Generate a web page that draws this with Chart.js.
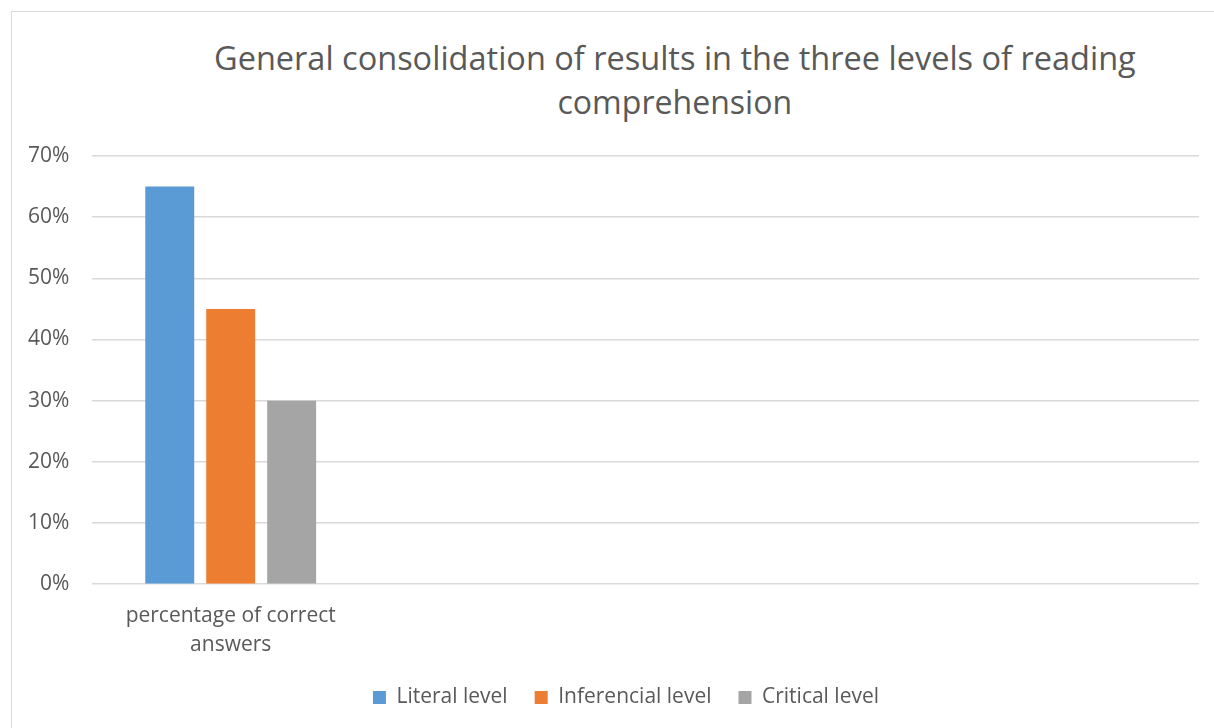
<!DOCTYPE html>
<html>
<head>
<meta charset="utf-8">
<script src="https://cdn.jsdelivr.net/npm/chart.js@4"></script>
<style>
  body { margin: 0; background: #fff; }
  #wrap { position: relative; width: 1214px; height: 728px; overflow: hidden; }
  #frame { position: absolute; left: 11px; top: 11px; width: 1300px; height: 800px;
           border-left: 1px solid #d9d9d9; border-top: 1px solid #d9d9d9; }
  #title { position: absolute; left: 175px; width: 1000px; top: 36px; text-align: center;
           font-family: "Open Sans", sans-serif; font-size: 33px; line-height: 44px; color: #595959;
           white-space: nowrap; }
  #title span { display: inline-block; transform-origin: center; }
  canvas { position: absolute; left: 0; top: 0; }
</style>
</head>
<body>
<div id="wrap">
  <div id="frame"></div>
  <div id="title"><span data-w="922">General consolidation of results in the three levels of reading</span><br><span data-w="235">comprehension</span></div>
  <canvas id="chart" width="1214" height="728"></canvas>
</div>
<script>
// categories: only the first one holds data, the rest are empty slots
const categories = [["percentage of correct", "answers"], "", "", ""];
const literal = [65, null, null, null];
const inferencial = [45, null, null, null];
const critical = [30, null, null, null];
const yTicks = [0, 10, 20, 30, 40, 50, 60, 70];

const textColor = "#595959";
const gridColor = "#d9d9d9";
const fontFamily = "'Open Sans', sans-serif";

// squeeze the title lines to the narrow look of the original font
document.querySelectorAll('#title span').forEach(s => {
  s.style.transform = 'scaleX(' + (s.dataset.w / s.offsetWidth) + ')';
});

// the original legend sits a bit right of the canvas centre
const legendNudge = {
  id: 'legendNudge',
  afterLayout(chart) {
    chart.legend.left += 24;
    chart.legend.right += 24;
  }
};

const ctx = document.getElementById('chart');

new Chart(ctx, {
  type: 'bar',
  data: {
    labels: categories,
    datasets: [
      { label: 'Literal level', data: literal, backgroundColor: "#5b9bd5" },
      { label: 'Inferencial level', data: inferencial, backgroundColor: "#ed7d31" },
      { label: 'Critical level', data: critical, backgroundColor: "#a5a5a5" }
    ]
  },
  plugins: [legendNudge],
  options: {
    responsive: false,
    animation: false,
    layout: {
      padding: { top: 156, left: 5, right: 15, bottom: 10 }
    },
    datasets: {
      bar: {
        categoryPercentage: 0.661,
        barPercentage: 0.803
      }
    },
    plugins: {
      legend: {
        position: 'bottom',
        labels: {
          color: textColor,
          font: { family: fontFamily, size: 21 },
          boxWidth: 13,
          boxHeight: 13,
          padding: 27
        }
      },
      tooltip: { enabled: false }
    },
    scales: {
      x: {
        grid: { display: false },
        border: { display: false },
        afterFit: (scale) => { scale.height -= 9; },
        ticks: {
          color: textColor,
          font: { family: fontFamily, size: 21, lineHeight: 1.4 },
          padding: 9,
          maxRotation: 0
        }
      },
      y: {
        min: 0,
        max: 70,
        afterBuildTicks: (scale) => {
          scale.ticks = yTicks.map(v => ({ value: v }));
        },
        grid: { color: gridColor, lineWidth: 1.5, drawTicks: false },
        border: { display: false },
        ticks: {
          color: textColor,
          font: { family: fontFamily, size: 21 },
          padding: 23,
          callback: (v) => v + '%'
        }
      }
    }
  }
});
</script>
</body>
</html>
